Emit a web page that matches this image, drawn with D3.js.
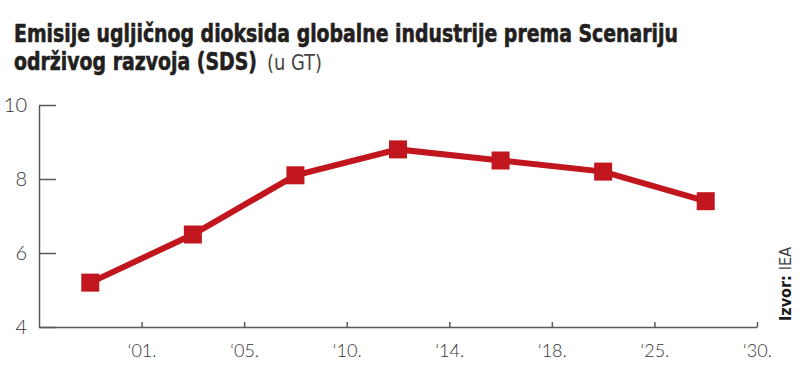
<!DOCTYPE html>
<html><head><meta charset="utf-8">
<script src="https://cdn.jsdelivr.net/npm/d3@7/dist/d3.min.js"></script>
<style>
html,body{margin:0;padding:0;background:#fff;}
svg{display:block;}
</style></head>
<body>
<svg id="c" width="800" height="369"></svg>
<script>
const tickLabels = ["‘01.", "‘05.", "‘10.", "‘14.", "‘18.", "‘25.", "‘30."];
const values = [5.2, 6.5, 8.1, 8.8, 8.5, 8.2, 7.4];
const yTicks = [4, 6, 8, 10];

const svg = d3.select("#c");
const red = "#c1161d";
const axisCol = "#5a5a5a";
const condensed = "'Liberation Sans Narrow','DejaVu Sans Condensed',Roboto,sans-serif";

// fit a text to a target width by horizontal scaling
function fitText(sel, x0, y0, target) {
  const w = sel.node().getComputedTextLength();
  const sx = Math.min(1, target / w);
  sel.attr("x", 0).attr("y", 0)
    .attr("transform", `translate(${x0},${y0}) scale(${sx},1)`);
}

// title
const t1 = svg.append("text")
  .attr("font-family", condensed)
  .attr("font-weight", 700).attr("font-size", 25).attr("fill", "#231f20")
  .attr("stroke", "#231f20").attr("stroke-width", 0.6)
  .text("Emisije ugljičnog dioksida globalne industrije prema Scenariju");
fitText(t1, 14, 42, 664);
const t2 = svg.append("text")
  .attr("font-family", condensed)
  .attr("font-weight", 700).attr("font-size", 25).attr("fill", "#231f20")
  .attr("stroke", "#231f20").attr("stroke-width", 0.6)
  .text("održivog razvoja (SDS)");
fitText(t2, 14, 70, 243);
const t3 = svg.append("text")
  .attr("font-family", condensed)
  .attr("font-weight", 400).attr("font-size", 22).attr("fill", "#444")
  .text("(u GT)");
fitText(t3, 267, 70, 55);

const x = d3.scaleLinear().domain([0, 7]).range([39, 757]);
const y = d3.scaleLinear().domain([4, 10]).range([327, 105]);

// y axis
const ya = svg.append("g").attr("transform", "translate(39,0)")
  .call(d3.axisLeft(y).tickValues(yTicks).tickFormat(d3.format("d"))
    .tickSize(-17).tickPadding(12).tickSizeOuter(0));
ya.select(".domain").attr("stroke", axisCol).attr("stroke-width", 1.5);
ya.selectAll(".tick line").attr("stroke", axisCol).attr("stroke-width", 1.5);
ya.selectAll(".tick text").attr("font-family", "Lato, 'Open Sans', sans-serif")
  .attr("font-weight", 300).attr("font-size", 20).attr("fill", "#333");

// x axis
const xa = svg.append("g").attr("transform", "translate(0,327)")
  .call(d3.axisBottom(x).tickValues(d3.range(1, 8))
    .tickFormat((d, i) => tickLabels[i]).tickSize(-5).tickPadding(17).tickSizeOuter(0));
xa.select(".domain").attr("stroke", axisCol).attr("stroke-width", 1.5);
xa.selectAll(".tick line").attr("stroke", axisCol).attr("stroke-width", 1.5);
xa.selectAll(".tick text").attr("font-family", "Lato, 'Open Sans', sans-serif")
  .attr("font-weight", 300).attr("font-size", 18).attr("fill", "#333");

// line
const line = d3.line().x((d, i) => x(i + 0.5)).y(d => y(d));
svg.append("path").datum(values).attr("d", line)
  .attr("fill", "none").attr("stroke", red).attr("stroke-width", 6).attr("stroke-linejoin", "miter");

const s = 18;
svg.selectAll("rect.m").data(values).enter().append("rect").attr("class", "m")
  .attr("x", (d, i) => x(i + 0.5) - s / 2).attr("y", d => y(d) - s / 2)
  .attr("width", s).attr("height", s).attr("fill", red);

// source
const src = svg.append("text").attr("transform", "translate(791,321) rotate(-90)")
  .attr("font-family", condensed)
  .attr("font-size", 16).attr("fill", "#1a1a1a");
src.append("tspan").attr("font-weight", 700).text("Izvor: ");
src.append("tspan").attr("font-weight", 300).attr("fill", "#444").text("IEA");
</script>
</body></html>
